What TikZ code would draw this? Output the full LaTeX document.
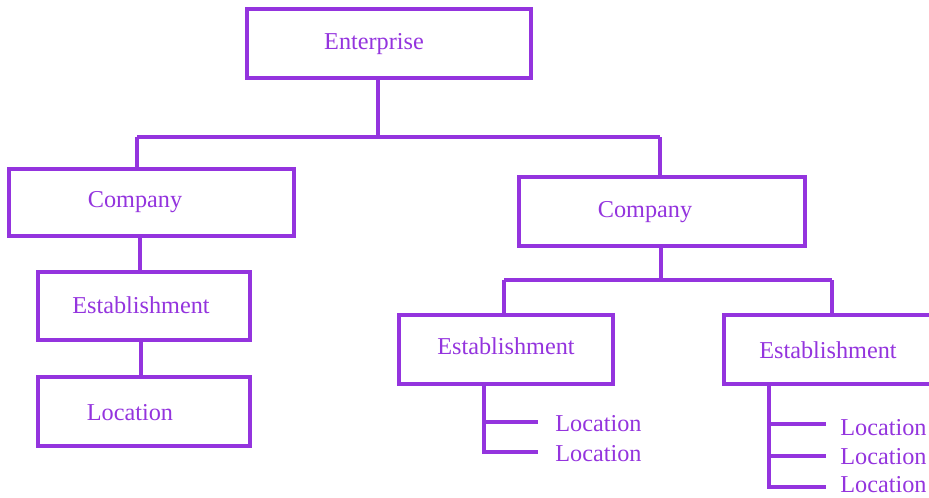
\documentclass[tikz,border=0pt]{standalone}
\usepackage{fontspec}
\setmainfont{Liberation Serif}
\definecolor{vio}{RGB}{148,52,222}
\begin{document}
\begin{tikzpicture}[x=0.02cm,y=-0.02cm,
  box/.style={draw=vio,line width=2pt,inner sep=0pt,outer sep=0pt,rectangle},
  lbl/.style={text=vio,font=\fontsize{13.8pt}{15pt}\selectfont,inner sep=0pt,yshift=-0.03cm},
  conn/.style={draw=vio,line width=2pt}]
\useasboundingbox (0,0) rectangle (929,497);
\clip (0,0) rectangle (929,497);
\fill[white] (0,0) rectangle (929,497);
% boxes
\node[box,minimum width=5.68cm,minimum height=1.38cm] (ent) at (389,43.5) {};
\node[box,minimum width=5.7cm,minimum height=1.34cm] (lcomp) at (151.5,202.5) {};
\node[box,minimum width=5.72cm,minimum height=1.38cm] (rcomp) at (662,211.5) {};
\node[box,minimum width=4.24cm,minimum height=1.36cm] (lest) at (144,306) {};
\node[box,minimum width=4.24cm,minimum height=1.38cm] (lloc) at (144,411.5) {};
\node[box,minimum width=4.28cm,minimum height=1.38cm] (mest) at (506,349.5) {};
\node[box,minimum width=4.52cm,minimum height=1.38cm] (rest) at (837,349.5) {};
% labels
\node[lbl] (tent) at (374,43) {Enterprise};
\node[lbl] (tlcomp) at (135,201) {Company};
\node[lbl] (trcomp) at (645,211) {Company};
\node[lbl] (tlest) at (141,304) {Establishment};
\node[lbl] (tlloc) at (130,411) {Location};
\node[lbl] (tmest) at (506,345) {Establishment};
\node[lbl] (trest) at (828,349) {Establishment};
\node[lbl,anchor=west] (m1) at (555,422) {Location};
\node[lbl,anchor=west] (m2) at (555,452) {Location};
\node[lbl,anchor=west] (r1) at (840,426) {Location};
\node[lbl,anchor=west] (r2) at (840,455) {Location};
\node[lbl,anchor=west] (r3) at (840,483) {Location};
% junction coordinates
\coordinate (j0) at (378,137);
\coordinate (jl) at (137,137);
\coordinate (jr) at (660,137);
\coordinate (k0) at (661,280);
\coordinate (kl) at (504,280);
\coordinate (kr) at (832,280);
% connectors
\draw[conn] (ent.south -| j0) -- (j0);
\draw[conn] (jl) -- (jr);
\draw[conn] (jl) -- (jl |- lcomp.north);
\draw[conn] (jr) -- (jr |- rcomp.north);
\draw[conn] (lcomp.south -| 140,0) -- (lest.north -| 140,0);
\draw[conn] (lest.south -| 141,0) -- (lloc.north -| 141,0);
\draw[conn] (rcomp.south -| k0) -- (k0);
\draw[conn] (kl) -- (kr);
\draw[conn] (kl) -- (kl |- mest.north);
\draw[conn] (kr) -- (kr |- rest.north);
% location brackets
\coordinate (mb) at (484,452);
\draw[conn] (mest.south -| mb) -- (mb) -- (538,452);
\draw[conn] (484,422) -- (538,422);
\coordinate (rb) at (769,487);
\draw[conn] (rest.south -| rb) -- (rb) -- (826,487);
\draw[conn] (769,424) -- (826,424);
\draw[conn] (769,456) -- (826,456);
\end{tikzpicture}
\end{document}
